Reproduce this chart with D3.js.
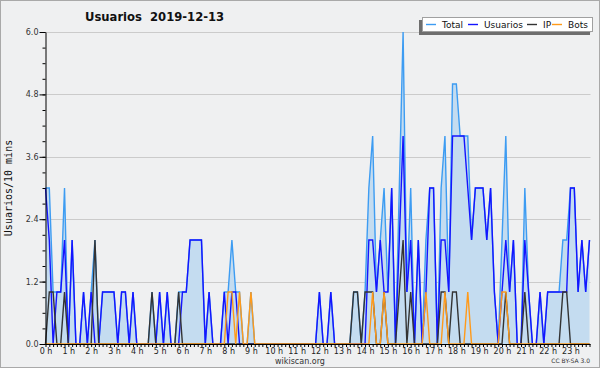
<!DOCTYPE html>
<html>
<head>
<meta charset="utf-8">
<script src="https://cdn.jsdelivr.net/npm/d3@7"></script>
<style>
  body { margin: 0; background: #fff; }
  svg { display: block; }
  text { font-family: "DejaVu Sans", sans-serif; }
</style>
</head>
<body>
<svg id="chart" width="600" height="370"></svg>
<script>
// one value every 10 minutes, 144 per day
const total = [
  3,3,1,1,1,3, 0,2,0,0,1,0, 1,2,0,1,1,1, 1,0,1,1,0,1,
  0,0,0,0,1,0, 1,0,1,0,0,1, 1,1,2,2,2,2, 0,1,0,0,0,1,
  1,2,1,1,0,0, 1,0,0,0,0,0, 0,0,0,0,0,0, 0,0,0,0,0,0,
  1,0,0,1,0,0, 0,0,0,1,1,0, 1,3,4,1,2,3, 1,3,0,3,6,1,
  3,0,2,0,2,3, 3,0,3,4,1,5, 5,4,4,4,2,3, 3,3,2,3,1,0,
  2,4,1,2,0,0, 3,1,0,0,1,0, 1,1,1,1,2,2, 3,3,1,2,1,2
];
const usuarios = [
  3,2,0,1,1,2, 0,2,0,0,1,0, 1,0,0,1,1,1, 1,0,1,1,0,1,
  0,0,0,0,0,0, 1,0,1,0,0,0, 1,1,2,2,2,2, 0,1,0,0,0,1,
  0,1,1,0,0,0, 0,0,0,0,0,0, 0,0,0,0,0,0, 0,0,0,0,0,0,
  1,0,0,1,0,0, 0,0,0,0,0,0, 0,2,2,1,2,1, 1,3,0,2,4,1,
  2,0,2,0,1,3, 3,0,2,2,1,4, 4,4,4,3,2,3, 3,3,2,3,1,0,
  1,2,1,2,0,0, 2,1,0,0,1,0, 1,1,1,1,1,1, 3,3,1,2,1,2
];
const ip = [
  0,1,1,0,0,1, 0,0,0,0,0,0, 0,2,0,0,0,0, 0,0,0,0,0,0,
  0,0,0,0,1,0, 0,0,0,0,0,1, 0,0,0,0,0,0, 0,0,0,0,0,0,
  0,0,0,0,0,0, 0,0,0,0,0,0, 0,0,0,0,0,0, 0,0,0,0,0,0,
  0,0,0,0,0,0, 0,0,0,1,1,0, 1,1,1,0,0,1, 0,0,0,1,2,0,
  1,0,0,0,0,0, 0,0,1,1,0,1, 1,0,0,0,0,0, 0,0,0,0,0,0,
  0,1,0,0,0,0, 1,0,0,0,0,0, 0,0,0,0,1,1, 0,0,0,0,0,0
];
const bots = [
  0,0,0,0,0,0, 0,0,0,0,0,0, 0,0,0,0,0,0, 0,0,0,0,0,0,
  0,0,0,0,0,0, 0,0,0,0,0,0, 0,0,0,0,0,0, 0,0,0,0,0,0,
  1,1,0,1,0,0, 1,0,0,0,0,0, 0,0,0,0,0,0, 0,0,0,0,0,0,
  0,0,0,0,0,0, 0,0,0,0,0,0, 0,0,1,0,0,1, 0,0,0,0,0,0,
  0,0,0,0,1,0, 0,0,0,1,0,0, 0,0,0,1,0,0, 0,0,0,0,0,0,
  1,1,0,0,0,0, 0,0,0,0,0,0, 0,0,0,0,0,0, 0,0,0,0,0,0
];
const yTicks = [0, 1.2, 2.4, 3.6, 4.8, 6.0];
const seriesNames = ['Total', 'Usuarios', 'IP', 'Bots'];
const seriesColors = ['#3d9cf2', '#1414ff', '#333333', '#ff9a1a'];

const svg = d3.select('#chart');
const plotLeft = 45.5, plotRight = 589.5, plotTop = 32, plotBottom = 344;

const x = d3.scaleLinear().domain([0, total.length - 1]).range([plotLeft, plotRight]);
const y = d3.scaleLinear().domain([0, 6]).range([plotBottom, plotTop]);

// background + frame
svg.append('rect')
  .attr('x', 0.5).attr('y', 0.5).attr('width', 599).attr('height', 367)
  .style('fill', '#eff0f1').style('stroke', '#a9a9a9');

// grid
svg.append('g').selectAll('line')
  .data(yTicks.slice(1))
  .join('line')
  .attr('x1', plotLeft).attr('x2', plotRight + 1)
  .attr('y1', d => Math.round(y(d)) + 0.5).attr('y2', d => Math.round(y(d)) + 0.5)
  .style('stroke', '#cbcbcb');

// total area
const idx = d3.range(total.length);
svg.append('path')
  .datum(idx)
  .attr('d', d3.area().x(i => x(i)).y0(plotBottom).y1(i => y(total[i])))
  .style('fill', '#c4dcf0');

// the four lines, in legend order
[total, usuarios, ip, bots].forEach((vals, k) => {
  svg.append('path')
    .datum(idx)
    .attr('d', d3.line().x(i => x(i)).y(i => y(vals[i])))
    .style('fill', 'none')
    .style('stroke', seriesColors[k])
    .style('stroke-width', 1.4)
    .style('stroke-linejoin', 'miter');
});

// y axis: minor ticks every 0.3, labelled ticks every 1.2
svg.append('g')
  .attr('transform', `translate(${plotLeft},0)`)
  .call(d3.axisLeft(y).tickValues(d3.range(0, 6.01, 0.3)).tickSize(3).tickFormat(''))
  .call(g => g.select('.domain').remove());
const yAxis = svg.append('g')
  .attr('transform', `translate(${plotLeft},0)`)
  .call(d3.axisLeft(y).tickValues(yTicks).tickSize(6).tickSizeOuter(0).tickPadding(1).tickFormat(d3.format('.1f')));
yAxis.selectAll('text').style('font-size', '8px').style('fill', '#333').style('font-family', '"DejaVu Sans"');

// x axis: a tick every 10 minutes, a label every hour
const xAxis = svg.append('g')
  .attr('transform', `translate(0,${plotBottom})`)
  .call(d3.axisBottom(x).tickValues(idx).tickSize(3).tickSizeOuter(0).tickPadding(1)
    .tickFormat(i => i % 6 === 0 ? `${i / 6} h` : ''));
xAxis.select('.domain').attr('d', `M${plotLeft},0.5H${plotRight + 1}`);
xAxis.selectAll('text').style('font-size', '8px').style('fill', '#222').style('font-family', '"DejaVu Sans"');
xAxis.selectAll('line, path').style('stroke', '#000');
yAxis.selectAll('line, path').style('stroke', '#000');

// title (two spaces kept)
svg.append('text')
  .attr('x', 85).attr('y', 21)
  .style('white-space', 'pre')
  .style('font-family', '"DejaVu Sans"')
  .style('font-weight', 'bold').style('font-size', '11.6px')
  .style('fill', '#111')
  .text('Usuarios  2019-12-13');

// y label
svg.append('text')
  .attr('transform', 'translate(12,188) rotate(-90)')
  .attr('text-anchor', 'middle')
  .style('font-family', '"DejaVu Sans Mono", monospace')
  .style('font-size', '10px').style('fill', '#111')
  .text('Usuarios/10 mins');

// footer
svg.append('text')
  .attr('x', 300).attr('y', 364).attr('text-anchor', 'middle')
  .style('font-size', '8px').style('fill', '#333')
  .text('wikiscan.org');
svg.append('text')
  .attr('x', 590).attr('y', 363).attr('text-anchor', 'end')
  .style('font-size', '6px').style('fill', '#333')
  .text('CC BY-SA 3.0');

// legend
const lg = svg.append('g');
lg.append('rect').attr('x', 419).attr('y', 20).attr('width', 171).attr('height', 15).style('fill', '#6e6e6e');
lg.append('rect').attr('x', 422.5).attr('y', 17.5).attr('width', 170).attr('height', 14)
  .style('fill', '#fff').style('stroke', '#a0a0a0');
const legendX = [426, 468, 527, 552];
seriesNames.forEach((name, k) => {
  lg.append('line')
    .attr('x1', legendX[k]).attr('x2', legendX[k] + 10)
    .attr('y1', 24.5).attr('y2', 24.5)
    .style('stroke', seriesColors[k]).style('stroke-width', 1.4);
  lg.append('text')
    .attr('x', legendX[k] + 16).attr('y', 28)
    .style('font-size', '9px').style('fill', '#111')
    .text(name);
});
</script>
</body>
</html>
